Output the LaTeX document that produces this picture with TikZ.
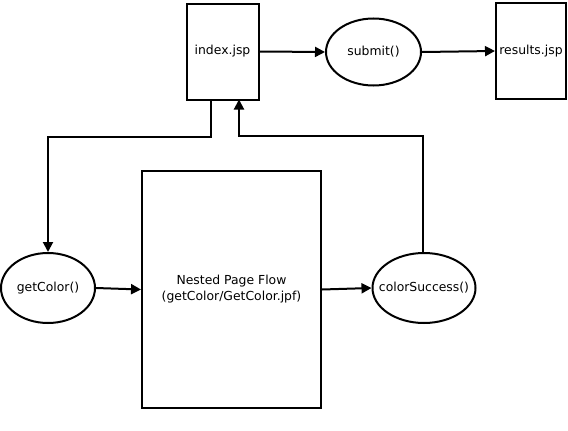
\documentclass[tikz,border=0pt]{standalone}
\usepackage{fontspec}
\setmainfont{DejaVu Sans}
\usetikzlibrary{arrows.meta,shapes.geometric}
\begin{document}
\begin{tikzpicture}[x=1pt,y=-1pt,
  every node/.style={font=\fontsize{12.4}{16}\selectfont, inner sep=0pt},
  pagebox/.style={draw, line width=2pt, rectangle},
  actnode/.style={draw, line width=2pt, ellipse},
  conn/.style={line width=2pt, -{Triangle[length=10pt,width=10pt]}}]
\useasboundingbox (0,0) rectangle (568,431);
\node[pagebox, minimum width=72pt, minimum height=96pt] (index) at (222.5,51.5) {index.jsp};
\node[actnode, minimum width=95pt, minimum height=67pt] (submit) at (373.5,52) {\makebox[0pt]{submit()}};
\node[pagebox, minimum width=70pt, minimum height=96pt] (results) at (531,51) {results.jsp};
\node[actnode, minimum width=94pt, minimum height=70pt] (getcolor) at (48,288) {\makebox[0pt]{getColor()}};
\node[pagebox, minimum width=179pt, minimum height=237pt, align=center] (nested) at (231.5,289.5) {Nested Page Flow\\(getColor/GetColor.jpf)};
\node[actnode, minimum width=103pt, minimum height=70pt] (success) at (424,288) {\makebox[0pt]{colorSuccess()}};
\coordinate (a0) at (211,99.5);
\coordinate (a1) at (211,137);
\coordinate (a2) at (48,137);
\coordinate (b0) at (423,136);
\coordinate (b1) at (239,136);
\coordinate (b2) at (239,99.5);
\draw[conn] (index.east) -- (submit.west);
\draw[conn] (submit.east) -- (results.west);
\draw[conn] (a0) -- (a1) -- (a2) -- (getcolor.north);
\draw[conn] (success.north -| b0) -- (b0) -- (b1) -- (b2);
\draw[conn] (getcolor.east) -- (nested.west);
\draw[conn] (nested.east) -- (success.west);
\end{tikzpicture}
\end{document}
